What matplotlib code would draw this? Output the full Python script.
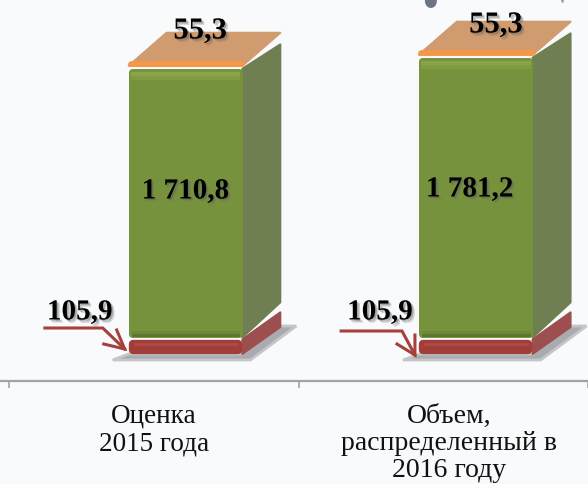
#!/usr/bin/env python3
# -*- coding: utf-8 -*-
import matplotlib
matplotlib.use('Agg')
import matplotlib.pyplot as plt
import matplotlib.patheffects as pe
from matplotlib.patches import Polygon, Ellipse

categories = ['Оценка\n2015 года', 'Объем,\nраспределенный в\n2016 году']
red_vals = [105.9, 105.9]
green_vals = [1710.8, 1781.2]
orange_vals = [55.3, 55.3]
red_labels = ['105,9', '105,9']
green_labels = ['1 710,8', '1 781,2']
orange_labels = ['55,3', '55,3']

W, H = 588, 485
PX_X = 290.            # pixels per category
PX_Y = 0.157           # pixels per unit of value
X0, Y0 = 154.5, 355.   # pixel position of category 0, value 0
BAR_W = 114 / PX_X
SHIFT = 31.5 / PX_X    # bars sit right of their axis slot
DX, DY = 38 / PX_X, 27 / PX_Y  # depth of the fake 3d

BG = '#f8fafc'
plt.rcParams['font.family'] = ['Liberation Serif', 'DejaVu Serif']

fig = plt.figure(figsize=(W / 100, H / 100), dpi=100, facecolor=BG)
ax = fig.add_axes([0, 0, 1, 1], facecolor=BG)
ax.set_xlim(-X0 / PX_X, (W - X0) / PX_X)
ax.set_ylim((Y0 - H) / PX_Y, Y0 / PX_Y)


def px(x, y):
    # picture pixels to data, for the decorations
    return (x - X0) / PX_X, (Y0 - y) / PX_Y


def box(x, y0, y1, front, side, lw=3., cut=0.):
    # one block of the stack: side face then front face
    r = x + BAR_W / 2
    c = cut / PX_Y
    ax.add_patch(Polygon([(r, y0), (r + DX, y0 + DY + c), (r + DX, y1 + DY - c / 3), (r, y1)],
                         fc=side, ec=side, lw=1.5, joinstyle='round', zorder=3))
    ins_x, ins_y = (lw / 0.72 / 2) / PX_X, (lw / 0.72 / 2) / PX_Y
    ax.bar(x, (y1 - y0) - 2 * ins_y, BAR_W - 2 * ins_x, bottom=y0 + ins_y, color=front,
           edgecolor=front, linewidth=lw, joinstyle='round', zorder=4)


shadow = [pe.SimplePatchShadow(offset=(2.2, -2.2), shadow_rgbFace='#777777', alpha=0.3),
          pe.SimplePatchShadow(offset=(1.2, -1.2), shadow_rgbFace='#555555', alpha=0.35),
          pe.Normal()]

green_label_px = [(186, 192), (471, 190)]
orange_label_px = [(200.5, 32), (497, 26)]
red_label_px = [(80, 313), (381, 313)]

for i in range(2):
    x = i + SHIFT + i / PX_X
    l, r = x - BAR_W / 2, x + BAR_W / 2
    y1 = red_vals[i]
    y2 = y1 + green_vals[i]
    y3 = y2 + orange_vals[i]

    # floor shadow
    ax.add_patch(Polygon([(l - 16 / PX_X, -6 / PX_Y), (r + 8 / PX_X, -6 / PX_Y),
                          (r + DX + 16 / PX_X, DY + 1 / PX_Y), (r + DX, DY + 1 / PX_Y),
                          (r, 0), (l, 0)], fc='#a9abae', ec='#c4c6c9', lw=2, zorder=1))

    box(x, 0, y1 - 2 / PX_Y, '#a23d39', '#9d4f50', lw=6.)
    box(x, y1, y2, '#76923c', '#6f7f52', lw=5., cut=8)
    # lighter top band, darker foot of the front face
    ax.plot([l + 4 / PX_X, r - 4 / PX_X], [y2 - 5 / PX_Y] * 2, color='#88a549', lw=3, zorder=5)
    ax.plot([l + 4 / PX_X, r - 4 / PX_X], [y2 - 9 / PX_Y] * 2, color='#7f9c42', lw=3, zorder=5)
    ax.plot([l + 4 / PX_X, r - 4 / PX_X], [y1 + 2 / PX_Y] * 2, color='#5c7530', lw=2, zorder=5)
    ax.plot([l + 4 / PX_X, r - 4 / PX_X], [y1 + 5 / PX_Y] * 2, color='#6c8737', lw=2, zorder=5)
    ax.plot([l + 6 / PX_X, r - 6 / PX_X], [y1 / 2 + 2 / PX_Y] * 2, color='#b04a46', lw=2, zorder=5)

    # lid: flat top plus thin front strip
    lid = y2 + 3 / PX_Y
    back = lid + 33 / PX_Y
    ax.add_patch(Polygon([(l, lid), (r, lid), (r + DX, back), (l + DX, back)],
                         fc='#d09b6f', ec='#d09b6f', lw=1.5, joinstyle='round', zorder=6))
    ax.plot([l + 2 / PX_X, r], [y3 - 4 / PX_Y] * 2, color='#f79646', lw=4, solid_capstyle='round', zorder=7)

    ax.text(*px(*green_label_px[i]), green_labels[i], ha='center', va='center', fontsize=21,
            fontweight='bold', color='k', path_effects=shadow, zorder=9)
    ax.text(*px(*orange_label_px[i]), orange_labels[i], ha='center', va='center', fontsize=22,
            fontweight='bold', path_effects=shadow, zorder=9)
    ax.text(*px(*red_label_px[i]), red_labels[i], ha='center', va='center', fontsize=21,
            fontweight='bold', path_effects=shadow, zorder=9)

# leader arrows
RED = '#a5403b'
for pts in ([(45, 329), (103, 329), (125, 350)], [(117, 331), (125, 350), (104, 345)],
            [(342, 332), (403, 332), (416, 356)], [(416, 336), (416, 356), (398, 345)]):
    xs, ys = zip(*[px(a, b) for a, b in pts])
    ax.plot(xs, ys, color=RED, lw=2.2, solid_joinstyle='miter', zorder=8)

# bits of a picture cut off at the top edge
ax.add_patch(Ellipse(px(432, 2), 12 / PX_X, 14 / PX_Y, fc='#6d7488', ec='none', zorder=2))
ax.add_patch(Ellipse(px(564, 0), 3 / PX_X, 8 / PX_Y, fc='#9a9fa8', ec='none', zorder=2))

# category axis
for s in ['top', 'left', 'right']:
    ax.spines[s].set_visible(False)
ax.spines['bottom'].set_position(('data', px(0, 381.5)[1]))
ax.spines['bottom'].set_color('#a3a3a3')
ax.spines['bottom'].set_linewidth(1.6)
ax.spines['bottom'].set_zorder(2)
ax.set_xticks([-0.5, 0.5, 1.5])
ax.set_xticklabels([])
ax.tick_params(axis='x', length=5, width=1.2, color='#a3a3a3')
ax.set_yticks([])

ax.text(*px(154.5, 404), categories[0], ha='center', va='top', fontsize=19.5, color='#111111',
        linespacing=1.15, zorder=9)
ax.text(*px(450.5, 404), categories[1], ha='center', va='top', fontsize=20, color='#111111',
        linespacing=1.1, zorder=9)

fig.savefig('out.png', dpi=100, facecolor=BG)
